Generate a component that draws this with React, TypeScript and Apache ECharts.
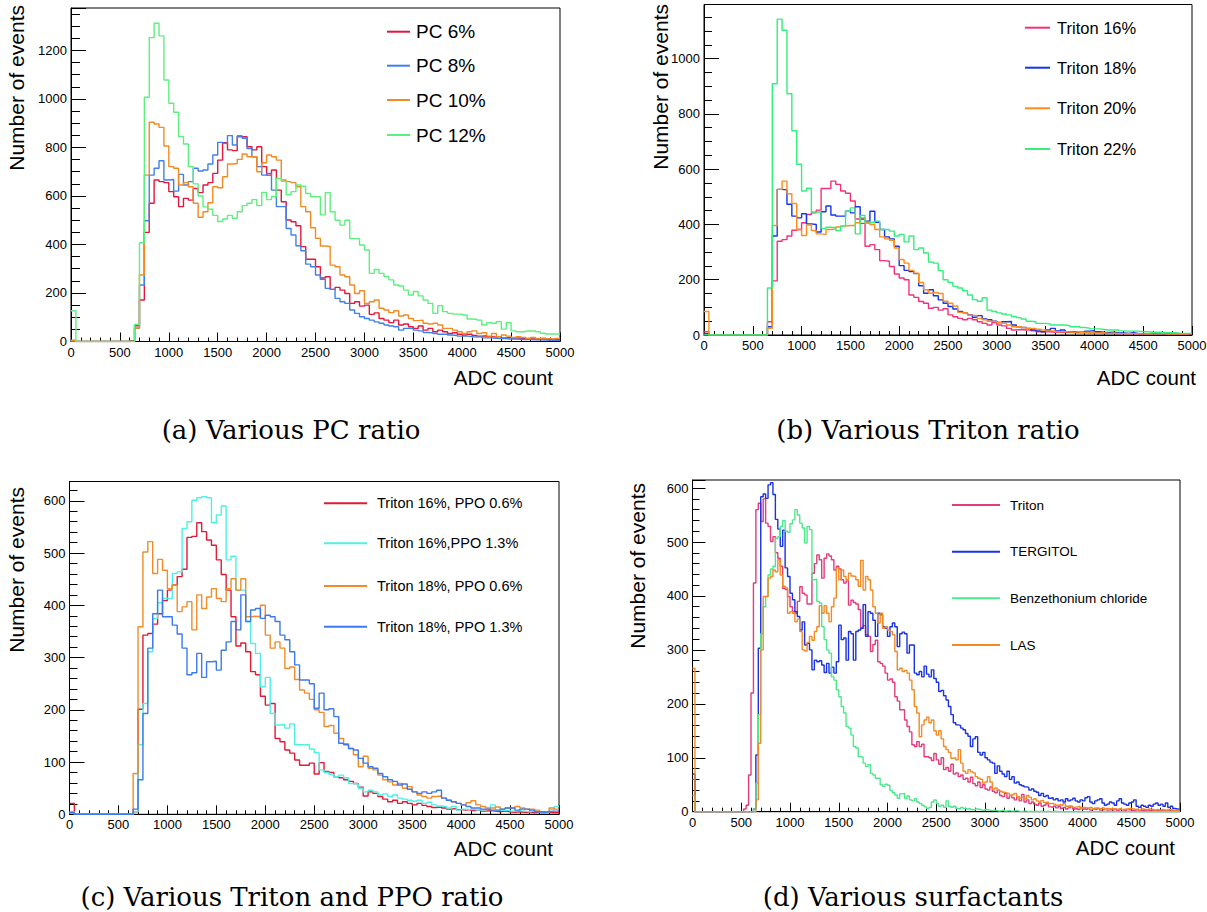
import React, { useEffect, useRef } from "react";
import * as echarts from "echarts";

// ---------------- DATA ----------------
const xTicks = [0, 500, 1000, 1500, 2000, 2500, 3000, 3500, 4000, 4500, 5000];
const binWidthABC = 50;
const binWidthD = 25;

// (a) Various PC ratio
const namesA = ["PC 6%", "PC 8%", "PC 10%", "PC 12%"];
const pc6 = [3, 0,0,0,0,0,0,0,0,0,0,0,3,
  65, 171, 450, 570, 666, 659, 655, 618,
  597, 556, 590, 583, 631, 614, 645, 655, 693, 748,
  820, 790, 787, 847, 844, 803, 790, 803, 721, 686,
  707, 624, 576, 501, 494, 477, 391, 339, 339, 308,
  262, 267, 215, 223, 212, 198, 157, 164, 146, 150,
  112, 118, 95, 88, 78, 88, 68, 72, 61, 54,
  64, 47, 54, 40, 47, 40, 33, 36, 30, 27,
  30, 25, 22, 24, 20, 18, 20, 15, 17, 14,
  15, 12, 13, 10, 12, 10, 9, 10, 8];
const pc8 = [0, 0,0,0,0,0,0,0,0,0,0,0,0,
  55, 233, 498, 686, 714, 745, 666, 668,
  620, 689, 645, 659, 714, 703, 707, 732, 769, 821,
  817, 849, 810, 844, 838, 796, 762, 721, 686, 693,
  624, 556, 556, 466, 439, 395, 374, 319, 308, 274,
  256, 219, 215, 178, 164, 157, 130, 116, 102, 95,
  88, 81, 75, 68, 64, 61, 47, 54, 54, 47,
  44, 37, 36, 33, 30, 30, 27, 25, 22, 22,
  20, 18, 20, 15, 15, 13, 12, 12, 10, 10,
  9, 8, 8, 7, 7, 6, 5, 5, 5];
const pc10 = [5, 0,0,0,0,0,0,0,0,0,0,0,0,
  55, 274, 686, 904, 897, 883, 806, 721,
  714, 645, 655, 638, 570, 512, 535, 572, 638, 634,
  679, 732, 734, 751, 773, 762, 762, 700, 737, 769,
  762, 748, 666, 659, 655, 638, 556, 535, 469, 425,
  394, 392, 315, 308, 274, 267, 233, 198, 209, 157,
  164, 171, 137, 130, 119, 127, 105, 109, 95, 86,
  88, 75, 72, 75, 68, 54, 54, 47, 40, 33,
  40, 44, 33, 36, 22, 33, 20, 27, 22, 17,
  20, 17, 13, 17, 13, 15, 12, 10, 13];
const pc12 = [127, 0,0,0,0,0,0,0,0,0,0,0,0,
  70, 407, 1007, 1253, 1312, 1260, 1078, 982,
  945, 845, 814, 721, 650, 600, 555, 545, 520, 495,
  505, 520, 508, 535, 560, 570, 585, 560, 615, 585,
  598, 672, 660, 605, 618, 645, 640, 610, 597, 597,
  522, 614, 535, 500, 480, 500, 424, 424, 398, 377,
  281, 297, 281, 268, 254, 233, 229, 212, 192, 206,
  188, 171, 157, 116, 148, 123, 116, 113, 113, 109,
  93, 92, 88, 68, 78, 75, 82, 51, 78, 44,
  40, 40, 43, 43, 40, 34, 31, 31, 31];

// (b) Various Triton ratio
const namesB = ["Triton 16%", "Triton 18%", "Triton 20%", "Triton 22%"];
const tr16 = [12, 0,0,0,0,0,0,0,0,0,0,0,0,
  48, 196, 339, 345, 358, 379, 382, 406,
  436, 442, 452, 530, 530, 557, 545, 521, 513, 485,
  420, 404, 321, 327, 309, 269, 267, 248, 221, 206,
  200, 145, 136, 121, 115, 97, 100, 90, 95, 73,
  66, 60, 55, 60, 55, 48, 42, 36, 45, 36,
  33, 24, 18, 20, 18, 18, 15, 12, 12, 12,
  10, 10, 9, 10, 8, 8, 9, 7, 8, 8,
  6, 7, 6, 5, 6, 5, 5, 4, 5, 4,
  4, 5, 4, 3, 4, 3, 4, 3, 4];
const tr18 = [5, 0,0,0,0,0,0,0,0,0,0,0,0,
  30, 358, 527, 525, 473, 430, 424, 439,
  402, 400, 373, 446, 467, 434, 430, 430, 448, 442,
  464, 420, 412, 448, 408, 382, 355, 348, 321, 251,
  234, 230, 222, 178, 151, 164, 142, 127, 115, 103,
  94, 85, 80, 73, 64, 70, 58, 55, 50, 45,
  48, 49, 36, 30, 27, 24, 18, 15, 12, 18,
  24, 15, 18, 12, 12, 10, 10, 14, 16, 12,
  10, 9, 10, 8, 7, 6, 8, 6, 5, 5,
  6, 4, 5, 4, 4, 5, 4, 3, 4];
const tr20 = [85, 0,0,0,0,0,0,0,0,0,0,0,0,
  24, 396, 527, 557, 511, 476, 382, 360,
  398, 378, 366, 364, 382, 384, 391, 394, 396, 396,
  406, 424, 408, 400, 382, 355, 348, 343, 315, 273,
  260, 234, 224, 190, 164, 151, 154, 150, 122, 115,
  105, 82, 80, 72, 70, 60, 55, 50, 48, 45,
  42, 36, 30, 30, 27, 24, 24, 21, 18, 15,
  15, 12, 12, 11, 10, 12, 9, 8, 10, 7,
  8, 6, 7, 6, 5, 6, 5, 5, 4, 5,
  4, 4, 5, 3, 4, 3, 4, 3, 5];
const tr22 = [0, 0,0,0,0,0,0,0,0,0,0,0,0,
  170, 909, 1143, 1103, 873, 739, 618, 521,
  531, 445, 445, 386, 390, 388, 378, 394, 448, 460,
  366, 433, 404, 408, 412, 382, 382, 376, 358, 364,
  337, 358, 309, 315, 297, 264, 260, 233, 200, 190,
  176, 170, 160, 145, 128, 122, 135, 90, 85, 80,
  76, 73, 67, 63, 58, 50, 48, 42, 42, 40,
  36, 36, 36, 34, 30, 30, 27, 25, 22, 22,
  20, 18, 18, 18, 15, 14, 14, 14, 12, 12,
  10, 10, 10, 8, 8, 7, 6, 6, 6];

// (c) Various Triton and PPO ratio
const namesC = ["Triton 16%, PPO 0.6%", "Triton 16%,PPO 1.3%", "Triton 18%, PPO 0.6%", "Triton 18%, PPO 1.3%"];
const t16p06 = [21, 0,0,0,0,0,0,0,0,0,0,0,0,
  5, 201, 343, 346, 364, 384, 409, 429,
  439, 455, 469, 530, 532, 558, 541, 525, 515, 487,
  459, 429, 378, 322, 328, 311, 273, 267, 226, 209,
  212, 145, 139, 123, 117, 104, 94, 94, 98, 77,
  99, 82, 80, 72, 70, 66, 63, 59, 52, 35,
  43, 40, 34, 29, 24, 27, 21, 24, 21, 18,
  21, 17, 15, 13, 14, 12, 10, 11, 9, 8,
  9, 7, 8, 6, 7, 6, 5, 6, 5, 4,
  5, 4, 4, 3, 4, 3, 4, 3, 3];
const t16p13 = [3, 0,0,0,0,0,0,0,0,0,0,0,0,
  5, 133, 212, 311, 375, 405, 413, 413,
  461, 464, 547, 560, 601, 606, 608, 606, 558, 573,
  590, 487, 494, 429, 429, 369, 327, 308, 244, 262,
  193, 171, 172, 165, 173, 133, 133, 133, 125, 118,
  85, 80, 76, 72, 75, 70, 59, 58, 50, 43,
  46, 43, 37, 39, 34, 37, 31, 29, 27, 25,
  27, 21, 23, 18, 16, 15, 12, 15, 8, 10,
  9, 10, 8, 9, 10, 18, 8, 7, 8, 6,
  7, 6, 5, 6, 5, 4, 5, 9, 15];
const t18p06 = [5, 0,0,0,0,0,0,0,0,0,0,0,0,
  78, 359, 502, 522, 461, 488, 467, 432,
  439, 388, 397, 407, 353, 420, 394, 416, 432, 413,
  407, 432, 451, 429, 451, 378, 379, 378, 400, 343,
  318, 330, 318, 279, 282, 258, 238, 232, 220, 200,
  195, 168, 170, 155, 145, 135, 126, 114, 91, 111,
  88, 85, 75, 66, 62, 56, 59, 50, 53, 43,
  37, 34, 31, 34, 35, 31, 27, 24, 21, 18,
  22, 26, 18, 15, 12, 12, 14, 10, 12, 12,
  15, 12, 10, 10, 8, 5, 5, 12, 10];
const t18p13 = [3, 0,0,0,0,0,0,0,0,0,0,0,0,
  10, 66, 193, 318, 384, 429, 378, 378,
  362, 345, 318, 267, 271, 308, 262, 292, 293, 276,
  314, 330, 369, 353, 420, 369, 391, 394, 375, 381,
  378, 369, 343, 334, 311, 286, 257, 257, 250, 203,
  232, 200, 202, 187, 136, 133, 126, 123, 107, 98,
  91, 88, 78, 72, 66, 63, 56, 58, 48, 43,
  40, 43, 40, 43, 46, 31, 27, 24, 21, 18,
  15, 12, 12, 10, 10, 8, 8, 10, 12, 12,
  8, 10, 10, 8, 5, 4, 5, 6, 6];

// (d) Various surfactants (25-wide bins)
const namesD = ["Triton", "TERGITOL", "Benzethonium chloride", "LAS"];
const sTriton = [60,
  0,0,0,0,0,0,0,0,0,0,0,0,0,0,0,0,0,0,0,0,
  5, 12, 68, 220, 424, 560, 572, 538, 580, 535,
  529, 501, 510, 480, 470, 455, 414, 412, 399, 380,
  371, 368, 390, 417, 405, 402, 385, 385, 442, 460,
  476, 467, 433, 470, 478, 474, 467, 448, 455, 450,
  430, 424, 428, 383, 392, 388, 385, 375, 340, 345,
  328, 325, 297, 310, 318, 278, 275, 270, 257, 244,
  246, 240, 213, 205, 189, 189, 170, 158, 148, 124,
  121, 130, 121, 125, 102, 102, 100, 95, 108, 96,
  88, 100, 78, 82, 75, 88, 70, 72, 65, 68,
  60, 62, 55, 64, 52, 48, 55, 45, 50, 42,
  40, 46, 38, 35, 40, 30, 28, 34, 25, 30,
  26, 22, 28, 20, 32, 18, 22, 15, 18, 14,
  12, 16, 10, 12, 15, 9, 8, 10, 7, 10,
  6, 8, 5, 7, 9, 5, 6, 4, 7, 5,
  4, 6, 3, 5, 4, 6, 3, 4, 5, 3,
  4, 3, 5, 2, 4, 3, 2, 4, 3, 2,
  3, 4, 2, 3, 2, 3, 2, 1, 3, 2,
  2, 1, 3, 2, 1, 2, 1, 2, 1];
const sTergitol = [70,
  0,0,0,0,0,0,0,0,0,0,0,0,0,0,0,0,0,0,0,0,0,0,0,0,
  5, 105, 303, 584, 589, 581,
  606, 610, 588, 542, 524, 492, 522, 452, 436, 405,
  393, 371, 362, 337, 352, 309, 312, 300, 263, 281,
  278, 280, 272, 258, 275, 257, 268, 257, 278, 346,
  319, 322, 281, 334, 330, 281, 334, 337, 340, 384,
  325, 371, 368, 355, 325, 368, 365, 343, 340, 325,
  343, 350, 343, 306, 330, 333, 330, 294, 309, 309,
  257, 254, 260, 250, 270, 255, 250, 263, 247, 240,
  223, 225, 215, 207, 195, 180, 165, 161, 160, 155,
  152, 145, 140, 121, 135, 139, 110, 105, 110, 100,
  96, 92, 90, 71, 85, 75, 70, 65, 75, 60,
  65, 53, 55, 50, 48, 46, 45, 40, 42, 38,
  36, 30, 34, 28, 30, 25, 26, 22, 24, 20,
  22, 18, 24, 20, 22, 25, 20, 18, 22, 20,
  26, 28, 18, 15, 20, 22, 24, 16, 12, 14,
  18, 16, 12, 20, 24, 16, 14, 12, 16, 18,
  22, 10, 8, 12, 10, 8, 12, 10, 14, 16,
  12, 14, 10, 16, 8, 10, 6, 5, 4];
const sBenz = [30,
  0,0,0,0,0,0,0,0,0,0,0,0,0,0,0,0,0,0,0,0,0,0,0,0,
  5, 53, 180, 330, 380, 399,
  439, 450, 455, 507, 510, 529, 540, 520, 518, 534,
  541, 560, 550, 535, 526, 498, 529, 523, 430, 431,
  390, 387, 343, 319, 300, 294, 250, 244, 226, 213,
  195, 183, 158, 155, 142, 121, 118, 102, 101, 90,
  84, 87, 71, 68, 62, 62, 50, 47, 51, 49,
  39, 35, 31, 25, 33, 34, 25, 29, 22, 20,
  24, 18, 15, 12, 9, 6, 8, 18, 22, 15,
  10, 12, 8, 20, 10, 8, 10, 6, 5, 8,
  6, 5, 6, 4, 3, 5, 4, 3, 2, 4,
  3, 2, 3, 2, 1, 2, 3, 1, 2, 1,
  1, 2, 1, 0, 1, 1, 0, 1, 0, 1,
  0, 1, 0, 0, 1, 0, 0, 1, 0, 0,
  0,0,0,0,0,0,0,0,0,0,
  0,0,0,0,0,0,0,0,0,0,
  0,0,0,0,0,0,0,0,0,0,
  0,0,0,0,0,0,0,0,0,0,
  0,0,0,0,0,0,0,0,0];
const sLAS = [266,
  0,0,0,0,0,0,0,0,0,0,0,0,0,0,0,0,0,0,0,0,0,0,0,0,0,
  22, 127, 300, 399, 399,
  433, 436, 448, 445, 467, 439, 418, 415, 368, 371,
  368, 352, 357, 334, 300, 298, 314, 325, 318, 334,
  343, 382, 368, 382, 368, 352, 380, 396, 452, 430,
  448, 436, 430, 442, 437, 436, 430, 418, 466, 411,
  436, 430, 411, 380, 368, 350, 368, 340, 343, 337,
  334, 328, 297, 263, 266, 260, 262, 257, 244, 226,
  195, 183, 139, 161, 170, 175, 165, 170, 150, 142,
  150, 135, 121, 115, 110, 99, 100, 96, 115, 90,
  75, 71, 78, 74, 72, 65, 62, 60, 53, 55,
  65, 55, 42, 44, 40, 38, 36, 35, 34, 30,
  32, 34, 28, 25, 27, 24, 30, 27, 22, 24,
  20, 18, 21, 17, 18, 15, 16, 14, 12, 13,
  12, 15, 10, 11, 10, 8, 9, 10, 6, 8,
  7, 6, 8, 5, 7, 6, 5, 7, 4, 6,
  5, 6, 4, 5, 6, 4, 5, 4, 6, 5,
  4, 5, 3, 5, 4, 3, 5, 4, 3, 4,
  3, 4, 3, 2, 4, 3, 2, 3, 3];

const captions = [
  "(a) Various PC ratio",
  "(b) Various Triton ratio",
  "(c) Various Triton and PPO ratio",
  "(d) Various surfactants",
];

// ---------------- LAYOUT / STYLE ----------------
type Panel = {
  names: string[];
  series: number[][];
  colors: string[];
  bin: number;
  grid: { left: number; top: number; width: number; height: number };
  yMax: number;
  yInterval: number;
  yMinorSplit: number;
  yTickLen: number;
  yMinorLen: number;
  legend: { x1: number; x2: number; tx: number; ys: number[]; fs: number };
  yTitle: { x: number; y: number };
  xTitle: { x: number; y: number };
  caption: { x: number; y: number };
};

const panels: Panel[] = [
  {
    names: namesA, series: [pc6, pc8, pc10, pc12],
    colors: ["#e3163c", "#3f80ee", "#f28a22", "#5ef07f"],
    bin: binWidthABC,
    grid: { left: 71, top: 8, width: 489, height: 333.5 },
    yMax: 1375, yInterval: 200, yMinorSplit: 4, yTickLen: 15, yMinorLen: 9,
    legend: { x1: 387, x2: 410, tx: 416, ys: [31.7, 65.7, 100, 135], fs: 19 },
    yTitle: { x: 16, y: 5 }, xTitle: { x: 553, y: 377 }, caption: { x: 291, y: 430 },
  },
  {
    names: namesB, series: [tr16, tr18, tr20, tr22],
    colors: ["#f5307a", "#1434ee", "#ff8c1c", "#33ef7c"],
    bin: binWidthABC,
    grid: { left: 704, top: 4.5, width: 488, height: 330.5 },
    yMax: 1196, yInterval: 200, yMinorSplit: 4, yTickLen: 15, yMinorLen: 8,
    legend: { x1: 1025, x2: 1050, tx: 1057, ys: [27.7, 67.7, 108.3, 149], fs: 16.5 },
    yTitle: { x: 660, y: 4 }, xTitle: { x: 1196, y: 377 }, caption: { x: 928, y: 430 },
  },
  {
    names: namesC, series: [t16p06, t16p13, t18p06, t18p13],
    colors: ["#e01b36", "#4ff0e6", "#f08c2a", "#3c7af0"],
    bin: binWidthABC,
    grid: { left: 69.5, top: 481.5, width: 489.5, height: 332.8 },
    yMax: 637, yInterval: 100, yMinorSplit: 5, yTickLen: 15, yMinorLen: 8,
    legend: { x1: 324, x2: 367, tx: 377, ys: [503.3, 543.3, 586, 626.7], fs: 14.5 },
    yTitle: { x: 16, y: 487 }, xTitle: { x: 553, y: 848 }, caption: { x: 292, y: 897 },
  },
  {
    names: namesD, series: [sTriton, sTergitol, sBenz, sLAS],
    colors: ["#e23c7c", "#1832e4", "#4ee88c", "#f28b24"],
    bin: binWidthD,
    grid: { left: 692.5, top: 480, width: 487.5, height: 331.7 },
    yMax: 615, yInterval: 100, yMinorSplit: 5, yTickLen: 13, yMinorLen: 7,
    legend: { x1: 952, x2: 1000, tx: 1010, ys: [505, 551.7, 598.3, 645], fs: 13.5 },
    yTitle: { x: 637, y: 483 }, xTitle: { x: 1175, y: 847 }, caption: { x: 913, y: 897 },
  },
];

const SANS = "Liberation Sans";
const SERIF = "DejaVu Serif";

function toSteps(values: number[], bin: number): [number, number][] {
  const pts: [number, number][] = values.map((v, i) => [i * bin, v]);
  pts.push([values.length * bin, values[values.length - 1]]);
  return pts;
}

const plain = (v: number) => String(v);

function buildOption() {
  const grid: any[] = [];
  const xAxis: any[] = [];
  const yAxis: any[] = [];
  const series: any[] = [];
  const graphic: any[] = [];

  panels.forEach((p, k) => {
    grid.push({
      ...p.grid,
      show: true,
      borderColor: "#000",
      borderWidth: 1,
      backgroundColor: "transparent",
      containLabel: false,
      outerBoundsMode: "none",
    });
    xAxis.push({
      type: "value",
      gridIndex: k,
      min: xTicks[0],
      max: xTicks[xTicks.length - 1],
      interval: xTicks[1] - xTicks[0],
      axisLine: { show: true, onZero: false, lineStyle: { color: "#000", width: 1 } },
      axisTick: { show: true, inside: true, length: 9, lineStyle: { color: "#000", width: 1 } },
      minorTick: { show: true, splitNumber: 5, length: 4, lineStyle: { color: "#000", width: 1 } },
      axisLabel: { color: "#000", fontSize: 13, fontFamily: SANS, margin: 4, formatter: plain },
      splitLine: { show: false },
      minorSplitLine: { show: false },
    });
    yAxis.push({
      type: "value",
      gridIndex: k,
      min: 0,
      max: p.yMax,
      interval: p.yInterval,
      axisLine: { show: true, onZero: false, lineStyle: { color: "#000", width: 1 } },
      axisTick: { show: true, inside: true, length: p.yTickLen, lineStyle: { color: "#000", width: 1 } },
      minorTick: { show: true, splitNumber: p.yMinorSplit, length: p.yMinorLen, lineStyle: { color: "#000", width: 1 } },
      axisLabel: { color: "#000", fontSize: 13, fontFamily: SANS, margin: 4, showMaxLabel: false, formatter: plain },
      splitLine: { show: false },
      minorSplitLine: { show: false },
    });

    p.series.forEach((vals, j) => {
      series.push({
        type: "line",
        name: p.names[j],
        xAxisIndex: k,
        yAxisIndex: k,
        step: "end",
        symbol: "none",
        silent: true,
        data: toSteps(vals, p.bin),
        lineStyle: { color: p.colors[j], width: 1.4 },
        itemStyle: { color: p.colors[j] },
        z: 2 + j,
      });
      const ly = p.legend.ys[j];
      graphic.push({
        type: "line",
        shape: { x1: p.legend.x1, y1: ly, x2: p.legend.x2, y2: ly },
        style: { stroke: p.colors[j], lineWidth: 2 },
        silent: true,
      });
      graphic.push({
        type: "text",
        x: p.legend.tx,
        y: ly,
        silent: true,
        style: {
          text: p.names[j],
          fill: "#000",
          fontSize: p.legend.fs,
          fontFamily: SANS,
          align: "left",
          textAlign: "left",
          verticalAlign: "middle",
          textVerticalAlign: "middle",
        },
      });
    });

    graphic.push({
      type: "text",
      x: p.yTitle.x,
      y: p.yTitle.y,
      rotation: Math.PI / 2,
      silent: true,
      style: {
        text: "Number of events",
        fill: "#000",
        fontSize: 21,
        fontFamily: SANS,
        align: "right",
        textAlign: "right",
        verticalAlign: "middle",
        textVerticalAlign: "middle",
      },
    });
    graphic.push({
      type: "text",
      x: p.xTitle.x,
      y: p.xTitle.y,
      silent: true,
      style: {
        text: "ADC count",
        fill: "#000",
        fontSize: 20.5,
        fontFamily: SANS,
        align: "right",
        textAlign: "right",
        verticalAlign: "middle",
        textVerticalAlign: "middle",
      },
    });
    graphic.push({
      type: "text",
      x: p.caption.x,
      y: p.caption.y,
      silent: true,
      style: {
        text: captions[k],
        fill: "#000",
        fontSize: 26,
        fontFamily: SERIF,
        align: "center",
        textAlign: "center",
        verticalAlign: "middle",
        textVerticalAlign: "middle",
      },
    });
  });

  return {
    animation: false,
    backgroundColor: "#ffffff",
    grid,
    xAxis,
    yAxis,
    series,
    graphic: { elements: graphic },
  };
}

export default function App() {
  const ref = useRef<HTMLDivElement | null>(null);
  useEffect(() => {
    if (!ref.current) return;
    const chart = echarts.init(ref.current, undefined, { renderer: "svg" });
    chart.setOption(buildOption() as any);
    return () => chart.dispose();
  }, []);
  return (
    <div
      ref={ref}
      style={{ position: "absolute", left: 0, top: 0, width: 1207, height: 912, background: "#fff" }}
    />
  );
}
